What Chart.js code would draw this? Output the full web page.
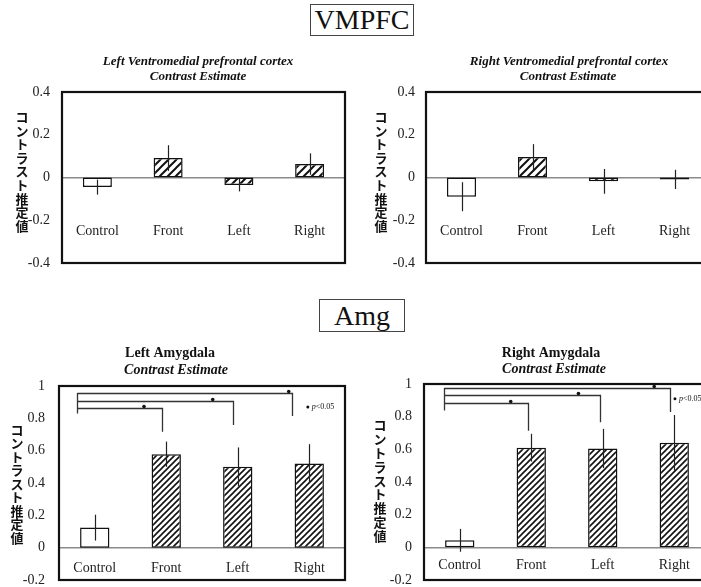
<!DOCTYPE html>
<html>
<head>
<meta charset="utf-8">
<script src="https://cdn.jsdelivr.net/npm/chart.js@4.4.0/dist/chart.umd.min.js"></script>
<style>
  html, body { margin: 0; padding: 0; background: #fff; overflow: hidden; width: 701px; height: 587px; }
  canvas { position: absolute; left: 0; top: 0; }
  .hdr { position: absolute; box-sizing: border-box; border: 1.5px solid #444; font-family: 'Liberation Serif', serif; text-align: center; color: #111; }
</style>
</head>
<body>
<div class="hdr" style="left:310px;top:4px;width:104px;height:32px;font-size:28px;line-height:30px;">VMPFC</div>
<div class="hdr" style="left:319px;top:299px;width:86px;height:33px;font-size:28px;line-height:31px;">Amg</div>
<canvas id="cTL" width="760" height="620"></canvas>
<canvas id="cTR" width="760" height="620"></canvas>
<canvas id="cBL" width="760" height="620"></canvas>
<canvas id="cBR" width="760" height="620"></canvas>
<script>
// --- data ---
const CATEGORIES = ['Control', 'Front', 'Left', 'Right'];
const VM_TICKS = [-0.4, -0.2, 0, 0.2, 0.4];
const AMG_TICKS = [-0.2, 0, 0.2, 0.4, 0.6, 0.8, 1];

const VM_LEFT = [-0.045, 0.091, -0.035, 0.063];
const VM_LEFT_ERR = [0.035, 0.06, 0.03, 0.05];
const VM_RIGHT = [-0.09, 0.096, -0.018, -0.009];
const VM_RIGHT_ERR = [0.068, 0.06, 0.058, 0.045];
const AMG_LEFT = [0.124, 0.578, 0.50, 0.52];
const AMG_LEFT_ERR = [0.08, 0.078, 0.12, 0.12];
const AMG_RIGHT = [0.043, 0.61, 0.605, 0.64];
const AMG_RIGHT_ERR = [0.07, 0.085, 0.12, 0.17];

// significance brackets (Control -> Front / Left / Right)
const AMG_LEFT_SIG_FROM = [-0.252, 0.83];
const AMG_LEFT_SIG_LEVELS = [0.866, 0.909, 0.957];
const AMG_LEFT_SIG_TO = [0.936, 1.938, 2.763];
const AMG_LEFT_SIG_ENDS = [0.717, 0.759, 0.815];
const AMG_LEFT_SIG_STARS = [0.689, 1.65, 2.713];
const AMG_LEFT_NOTE = [2.98, 0.87];
const AMG_RIGHT_SIG_FROM = [-0.216, 0.838];
const AMG_RIGHT_SIG_LEVELS = [0.884, 0.93, 0.976];
const AMG_RIGHT_SIG_TO = [0.95, 1.96, 2.94];
const AMG_RIGHT_SIG_ENDS = [0.714, 0.766, 0.828];
const AMG_RIGHT_SIG_STARS = [0.713, 1.66, 2.72];
const AMG_RIGHT_NOTE = [3.01, 0.91];

const SERIF = "'Liberation Serif', 'Times New Roman', serif";
const JP_LABEL = 'コントラスト推定値';

function hatch(size, lw) {
  const c = document.createElement('canvas');
  c.width = c.height = size;
  const g = c.getContext('2d');
  g.fillStyle = '#fff';
  g.fillRect(0, 0, size, size);
  g.strokeStyle = '#111';
  g.lineWidth = lw;
  g.beginPath();
  g.moveTo(0, size); g.lineTo(size, 0);
  g.moveTo(-size / 2, size / 2); g.lineTo(size / 2, -size / 2);
  g.moveTo(size / 2, size * 1.5); g.lineTo(size * 1.5, size / 2);
  g.stroke();
  return g.createPattern(c, 'repeat');
}

// error bars, brackets, frame, titles, vertical japanese label
const panelPlugin = {
  id: 'panel',
  afterDatasetsDraw(chart, args, opts) {
    const { ctx, chartArea: a, scales: { x, y } } = chart;
    const vals = chart.data.datasets[0].data;
    ctx.save();
    ctx.strokeStyle = '#222';
    ctx.lineWidth = 1.2;
    vals.forEach((v, i) => {
      const px = Math.round(x.getPixelForValue(i)) + 0.5;
      ctx.beginPath();
      ctx.moveTo(px, y.getPixelForValue(v + opts.errors[i]));
      ctx.lineTo(px, y.getPixelForValue(v - opts.errors[i]));
      ctx.stroke();
    });

    if (opts.sig) {
      const s = opts.sig;
      ctx.strokeStyle = '#333';
      ctx.lineWidth = 1.3;
      const fx = Math.round(x.getPixelForValue(s.from[0])) + 0.5;
      ctx.beginPath();
      ctx.moveTo(fx, y.getPixelForValue(s.from[1]));
      ctx.lineTo(fx, y.getPixelForValue(Math.max(...s.levels)));
      ctx.stroke();
      s.levels.forEach((lv, i) => {
        const ly = Math.round(y.getPixelForValue(lv)) + 0.5;
        const tx = Math.round(x.getPixelForValue(s.to[i])) + 0.5;
        ctx.beginPath();
        ctx.moveTo(fx, ly);
        ctx.lineTo(tx, ly);
        ctx.lineTo(tx, y.getPixelForValue(s.ends[i]));
        ctx.stroke();
        ctx.fillStyle = '#111';
        ctx.beginPath();
        ctx.arc(x.getPixelForValue(s.stars[i]), ly - 2, 1.8, 0, Math.PI * 2);
        ctx.fill();
      });
      const nx = x.getPixelForValue(s.note[0]);
      const ny = y.getPixelForValue(s.note[1]);
      ctx.beginPath();
      ctx.arc(nx, ny, 1.5, 0, Math.PI * 2);
      ctx.fill();
      ctx.textBaseline = 'middle';
      ctx.textAlign = 'left';
      ctx.font = 'italic 8px ' + SERIF;
      ctx.fillText('p', nx + 4, ny);
      const pw = ctx.measureText('p').width;
      ctx.font = '8px ' + SERIF;
      ctx.fillText('<0.05', nx + 4 + pw, ny);
    }

    ctx.strokeStyle = '#111';
    ctx.lineWidth = 2.2;
    ctx.strokeRect(a.left, a.top, a.right - a.left, a.bottom - a.top);
    ctx.restore();
  },
  afterDraw(chart, args, opts) {
    const ctx = chart.ctx;
    ctx.save();
    ctx.fillStyle = '#111';
    ctx.textAlign = 'center';
    ctx.textBaseline = 'middle';
    opts.titles.forEach(t => {
      ctx.font = t.font;
      ctx.fillText(t.text, t.x, t.y);
    });
    ctx.font = 'bold 13px "Noto Sans CJK JP", sans-serif';
    [...JP_LABEL].forEach((ch, i) => {
      ctx.fillText(ch, opts.jp.x, opts.jp.y + i * opts.jp.step);
    });
    ctx.restore();
  }
};

function makeChart(id, cfg) {
  const ctx = document.getElementById(id).getContext('2d');
  const pat = hatch(cfg.hatch, cfg.hatchWidth);
  return new Chart(ctx, {
    type: 'bar',
    data: {
      labels: CATEGORIES,
      datasets: [{
        data: cfg.values,
        backgroundColor: ['#fff', pat, pat, pat],
        borderColor: '#111',
        borderWidth: 1.5,
        borderSkipped: false,
        barPercentage: 0.41,
        categoryPercentage: 1
      }]
    },
    options: {
      responsive: false,
      animation: false,
      devicePixelRatio: 1,
      layout: { padding: cfg.padding },
      plugins: {
        legend: { display: false },
        tooltip: { enabled: false },
        title: { display: false },
        panel: { errors: cfg.errors, sig: cfg.sig, titles: cfg.titles, jp: cfg.jp }
      },
      scales: {
        x: {
          position: { y: 0 },
          offset: true,
          grid: { display: false, drawTicks: false },
          border: { display: true, color: '#8a8a8a', width: 1.5 },
          ticks: { font: { family: SERIF, size: 14 }, color: '#222', padding: cfg.labelPad, maxRotation: 0, autoSkip: false }
        },
        y: {
          min: cfg.ticks[0],
          max: cfg.ticks[cfg.ticks.length - 1],
          afterFit: s => { s.width = 40; },
          afterBuildTicks: s => { s.ticks = cfg.ticks.map(v => ({ value: v })); },
          grid: { display: false, drawTicks: false },
          border: { display: false },
          ticks: { callback: v => String(v), font: { family: SERIF, size: 14 }, color: '#222', padding: cfg.tickPad }
        }
      }
    },
    plugins: [panelPlugin]
  });
}

const VM_TITLE_FONT = 'italic bold 13px ' + SERIF;

makeChart('cTL', {
  values: VM_LEFT, errors: VM_LEFT_ERR, ticks: VM_TICKS,
  hatch: 8, hatchWidth: 2,
  padding: { left: 22, top: 92, right: 415, bottom: 357 },
  labelPad: 45, tickPad: 12,
  titles: [
    { text: 'Left Ventromedial prefrontal cortex', font: VM_TITLE_FONT, x: 198, y: 62 },
    { text: 'Contrast Estimate', font: VM_TITLE_FONT, x: 198, y: 77 }
  ],
  jp: { x: 22, y: 117, step: 13.6 }
});

makeChart('cTR', {
  values: VM_RIGHT, errors: VM_RIGHT_ERR, ticks: VM_TICKS,
  hatch: 8, hatchWidth: 2,
  padding: { left: 386, top: 92, right: 50, bottom: 357 },
  labelPad: 45, tickPad: 11,
  titles: [
    { text: 'Right Ventromedial prefrontal cortex', font: VM_TITLE_FONT, x: 569, y: 62 },
    { text: 'Contrast Estimate', font: VM_TITLE_FONT, x: 568, y: 77 }
  ],
  jp: { x: 381, y: 117, step: 13.6 }
});

makeChart('cBL', {
  values: AMG_LEFT, errors: AMG_LEFT_ERR, ticks: AMG_TICKS,
  hatch: 6, hatchWidth: 1.6,
  padding: { left: 19, top: 386, right: 415, bottom: 40 },
  labelPad: 12, tickPad: 14,
  sig: { from: AMG_LEFT_SIG_FROM, levels: AMG_LEFT_SIG_LEVELS, to: AMG_LEFT_SIG_TO, ends: AMG_LEFT_SIG_ENDS, stars: AMG_LEFT_SIG_STARS, note: AMG_LEFT_NOTE },
  titles: [
    { text: 'Left Amygdala', font: 'bold 14px ' + SERIF, x: 170, y: 353 },
    { text: 'Contrast Estimate', font: 'italic bold 14px ' + SERIF, x: 176, y: 370 }
  ],
  jp: { x: 17, y: 430, step: 13.5 }
});

makeChart('cBR', {
  values: AMG_RIGHT, errors: AMG_RIGHT_ERR, ticks: AMG_TICKS,
  hatch: 6, hatchWidth: 1.6,
  padding: { left: 384, top: 384, right: 50, bottom: 40 },
  labelPad: 10, tickPad: 12,
  sig: { from: AMG_RIGHT_SIG_FROM, levels: AMG_RIGHT_SIG_LEVELS, to: AMG_RIGHT_SIG_TO, ends: AMG_RIGHT_SIG_ENDS, stars: AMG_RIGHT_SIG_STARS, note: AMG_RIGHT_NOTE },
  titles: [
    { text: 'Right Amygdala', font: 'bold 14px ' + SERIF, x: 551, y: 353 },
    { text: 'Contrast Estimate', font: 'italic bold 14px ' + SERIF, x: 554, y: 369 }
  ],
  jp: { x: 380, y: 425, step: 13.9 }
});
</script>
</body>
</html>
